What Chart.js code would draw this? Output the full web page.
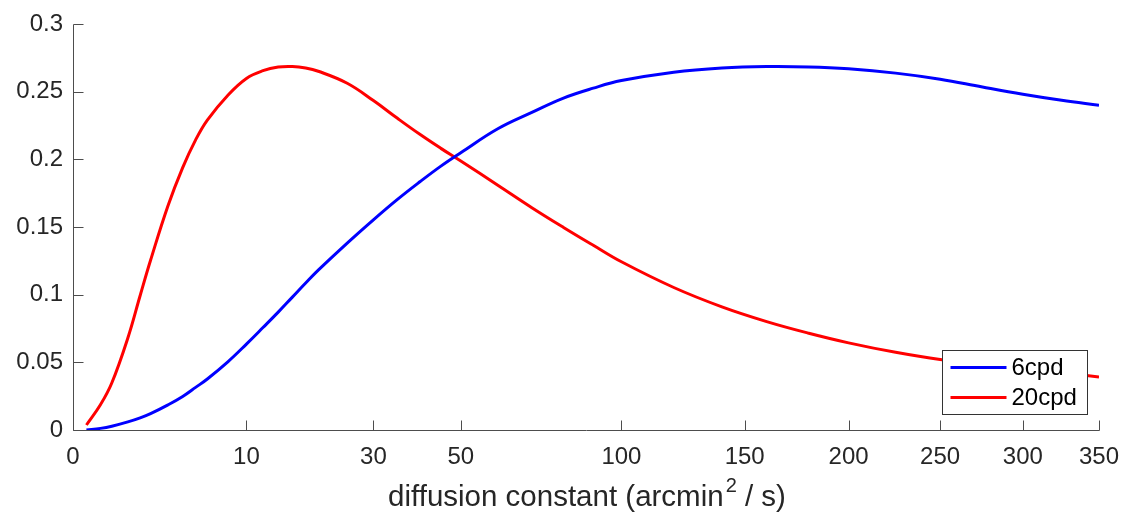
<!DOCTYPE html>
<html>
<head>
<meta charset="utf-8">
<title>diffusion constant</title>
<script src="https://cdn.jsdelivr.net/npm/chart.js@4.4.1/dist/chart.umd.min.js"></script>
<style>
  html, body { margin: 0; padding: 0; background: #fff; }
  #wrap { width: 1124px; height: 515px; }
</style>
</head>
<body>
<div id="wrap"><canvas id="sens" width="1124" height="515"></canvas></div>
<script>
// diffusion constant D (arcmin^2 / s), plotted on a square-root axis
const diffusion = [0.06, 0.25, 0.5, 1, 1.5, 2, 3, 4, 5, 6, 8, 10, 12, 14, 16, 18, 20, 25, 30, 35, 40, 45, 50,
                   60, 70, 80, 90, 100, 120, 140, 160, 180, 200, 225, 250, 275, 300, 325, 350];

const cpd6 = [0, 0.0012, 0.0028, 0.0060, 0.0090, 0.0121, 0.0186, 0.0248, 0.0315, 0.0377, 0.0506, 0.0635,
              0.0757, 0.0871, 0.0982, 0.1086, 0.1181, 0.1381, 0.1553, 0.1704, 0.1834, 0.1950, 0.2049,
              0.2226, 0.2347, 0.2453, 0.2526, 0.2582, 0.2644, 0.2675, 0.2686, 0.2683, 0.2669, 0.2637,
              0.2592, 0.2534, 0.2481, 0.2436, 0.2399];

const cpd20 = [0.0037, 0.0186, 0.0347, 0.0680, 0.0994, 0.1254, 0.1657, 0.1939, 0.2144, 0.2290, 0.2476, 0.2598,
               0.2655, 0.2682, 0.2686, 0.2675, 0.2651, 0.2562, 0.2434, 0.2303, 0.2185, 0.2081, 0.1987,
               0.1809, 0.1643, 0.1497, 0.1365, 0.1243, 0.1053, 0.0910, 0.0801, 0.0715, 0.0644, 0.0574,
               0.0521, 0.0487, 0.0455, 0.0425, 0.0392];

const seriesNames = ['6cpd', '20cpd'];
const xTicks = [0, 10, 30, 50, 100, 150, 200, 250, 300, 350];
const yTicks = [0, 0.05, 0.1, 0.15, 0.2, 0.25, 0.3];

const FONT = "'Liberation Sans', Arial, Helvetica, sans-serif";
const INK = '#262626';
const AXIS = '#4d4d4d';

function toPoints(values) {
    return diffusion.map((d, i) => ({ x: Math.sqrt(d), y: values[i] }));
}

// matlab-ish axes: inward ticks, boxed legend in the corner, label with superscript
const axesDecor = {
    id: 'axesDecor',
    afterDraw(chart) {
        const { ctx, chartArea: a, scales: { x, y } } = chart;
        ctx.save();

        ctx.strokeStyle = AXIS;
        ctx.lineWidth = 1;
        ctx.beginPath();
        const bx = Math.round(a.bottom) + 0.5;
        const lx = Math.round(a.left) + 0.5;
        ctx.moveTo(lx, Math.round(a.top) + 0.5);
        ctx.lineTo(lx, bx);
        ctx.lineTo(Math.round(a.right) + 0.5, bx);
        x.ticks.forEach(t => {
            const px = Math.round(x.getPixelForValue(t.value)) + 0.5;
            ctx.moveTo(px, bx);
            ctx.lineTo(px, bx - 10);
        });
        y.ticks.forEach(t => {
            const py = Math.round(y.getPixelForValue(t.value)) + 0.5;
            ctx.moveTo(lx, py);
            ctx.lineTo(lx + 10, py);
        });
        ctx.stroke();

        // legend box
        const w = 145, h = 64;
        const left = Math.round(a.right) - 157 + 0.5;
        const top = Math.round(a.bottom) - 80 + 0.5;
        ctx.fillStyle = '#fff';
        ctx.fillRect(left, top, w, h);
        ctx.strokeStyle = '#333';
        ctx.strokeRect(left, top, w, h);
        chart.data.datasets.forEach((ds, i) => {
            const ly = top + 17 + i * 30;
            ctx.strokeStyle = ds.borderColor;
            ctx.lineWidth = 3;
            ctx.beginPath();
            ctx.moveTo(left + 8, ly);
            ctx.lineTo(left + 64, ly);
            ctx.stroke();
            ctx.fillStyle = '#000';
            ctx.font = '24px ' + FONT;
            ctx.textBaseline = 'middle';
            ctx.textAlign = 'left';
            ctx.fillText(ds.label, left + 69, ly + 1);
        });

        // x axis label
        const main = 'diffusion constant (arcmin', sup = '2', tail = ' / s)';
        const big = '29.5px ' + FONT, small = '20px ' + FONT;
        ctx.fillStyle = INK;
        ctx.textBaseline = 'alphabetic';
        ctx.textAlign = 'left';
        ctx.font = big;
        const w1 = ctx.measureText(main).width, w3 = ctx.measureText(tail).width;
        ctx.font = small;
        const w2 = ctx.measureText(sup).width;
        const tx = (a.left + a.right) / 2 - (w1 + w2 + w3) / 2;
        const base = 506;
        ctx.font = big;
        ctx.fillText(main, tx, base);
        ctx.font = small;
        ctx.fillText(sup, tx + w1 + 2, base - 14);
        ctx.font = big;
        ctx.fillText(tail, tx + w1 + w2 + 2, base);

        ctx.restore();
    }
};

new Chart(document.getElementById('sens'), {
    type: 'line',
    data: {
        datasets: [
            { label: seriesNames[0], data: toPoints(cpd6), borderColor: '#0000ff' },
            { label: seriesNames[1], data: toPoints(cpd20), borderColor: '#ff0000' }
        ]
    },
    options: {
        responsive: false,
        animation: false,
        events: [],
        layout: { padding: { top: 24, right: 25, left: 0, bottom: 0 } },
        elements: {
            point: { radius: 0 },
            line: { borderWidth: 3, tension: 0.4, fill: false }
        },
        plugins: {
            legend: { display: false },
            tooltip: { enabled: false }
        },
        scales: {
            x: {
                type: 'linear',
                min: 0,
                max: Math.sqrt(350),
                grid: { display: false, drawTicks: false },
                border: { display: false },
                afterBuildTicks: s => { s.ticks = xTicks.map(v => ({ value: Math.sqrt(v) })); },
                afterFit: s => { s.height = 85; s.paddingLeft = 0; s.paddingRight = 0; },
                ticks: {
                    color: INK,
                    font: { family: FONT, size: 24 },
                    padding: 13,
                    maxRotation: 0,
                    autoSkip: false,
                    callback: v => String(Math.round(v * v))
                }
            },
            y: {
                min: 0,
                max: 0.3,
                grid: { display: false, drawTicks: false },
                border: { display: false },
                afterBuildTicks: s => { s.ticks = yTicks.map(v => ({ value: v })); },
                afterFit: s => { s.width = 73; s.paddingTop = 0; s.paddingBottom = 0; },
                ticks: {
                    color: INK,
                    font: { family: FONT, size: 24 },
                    padding: 10,
                    callback: v => String(+v.toFixed(2))
                }
            }
        }
    },
    plugins: [axesDecor]
});
</script>
</body>
</html>
